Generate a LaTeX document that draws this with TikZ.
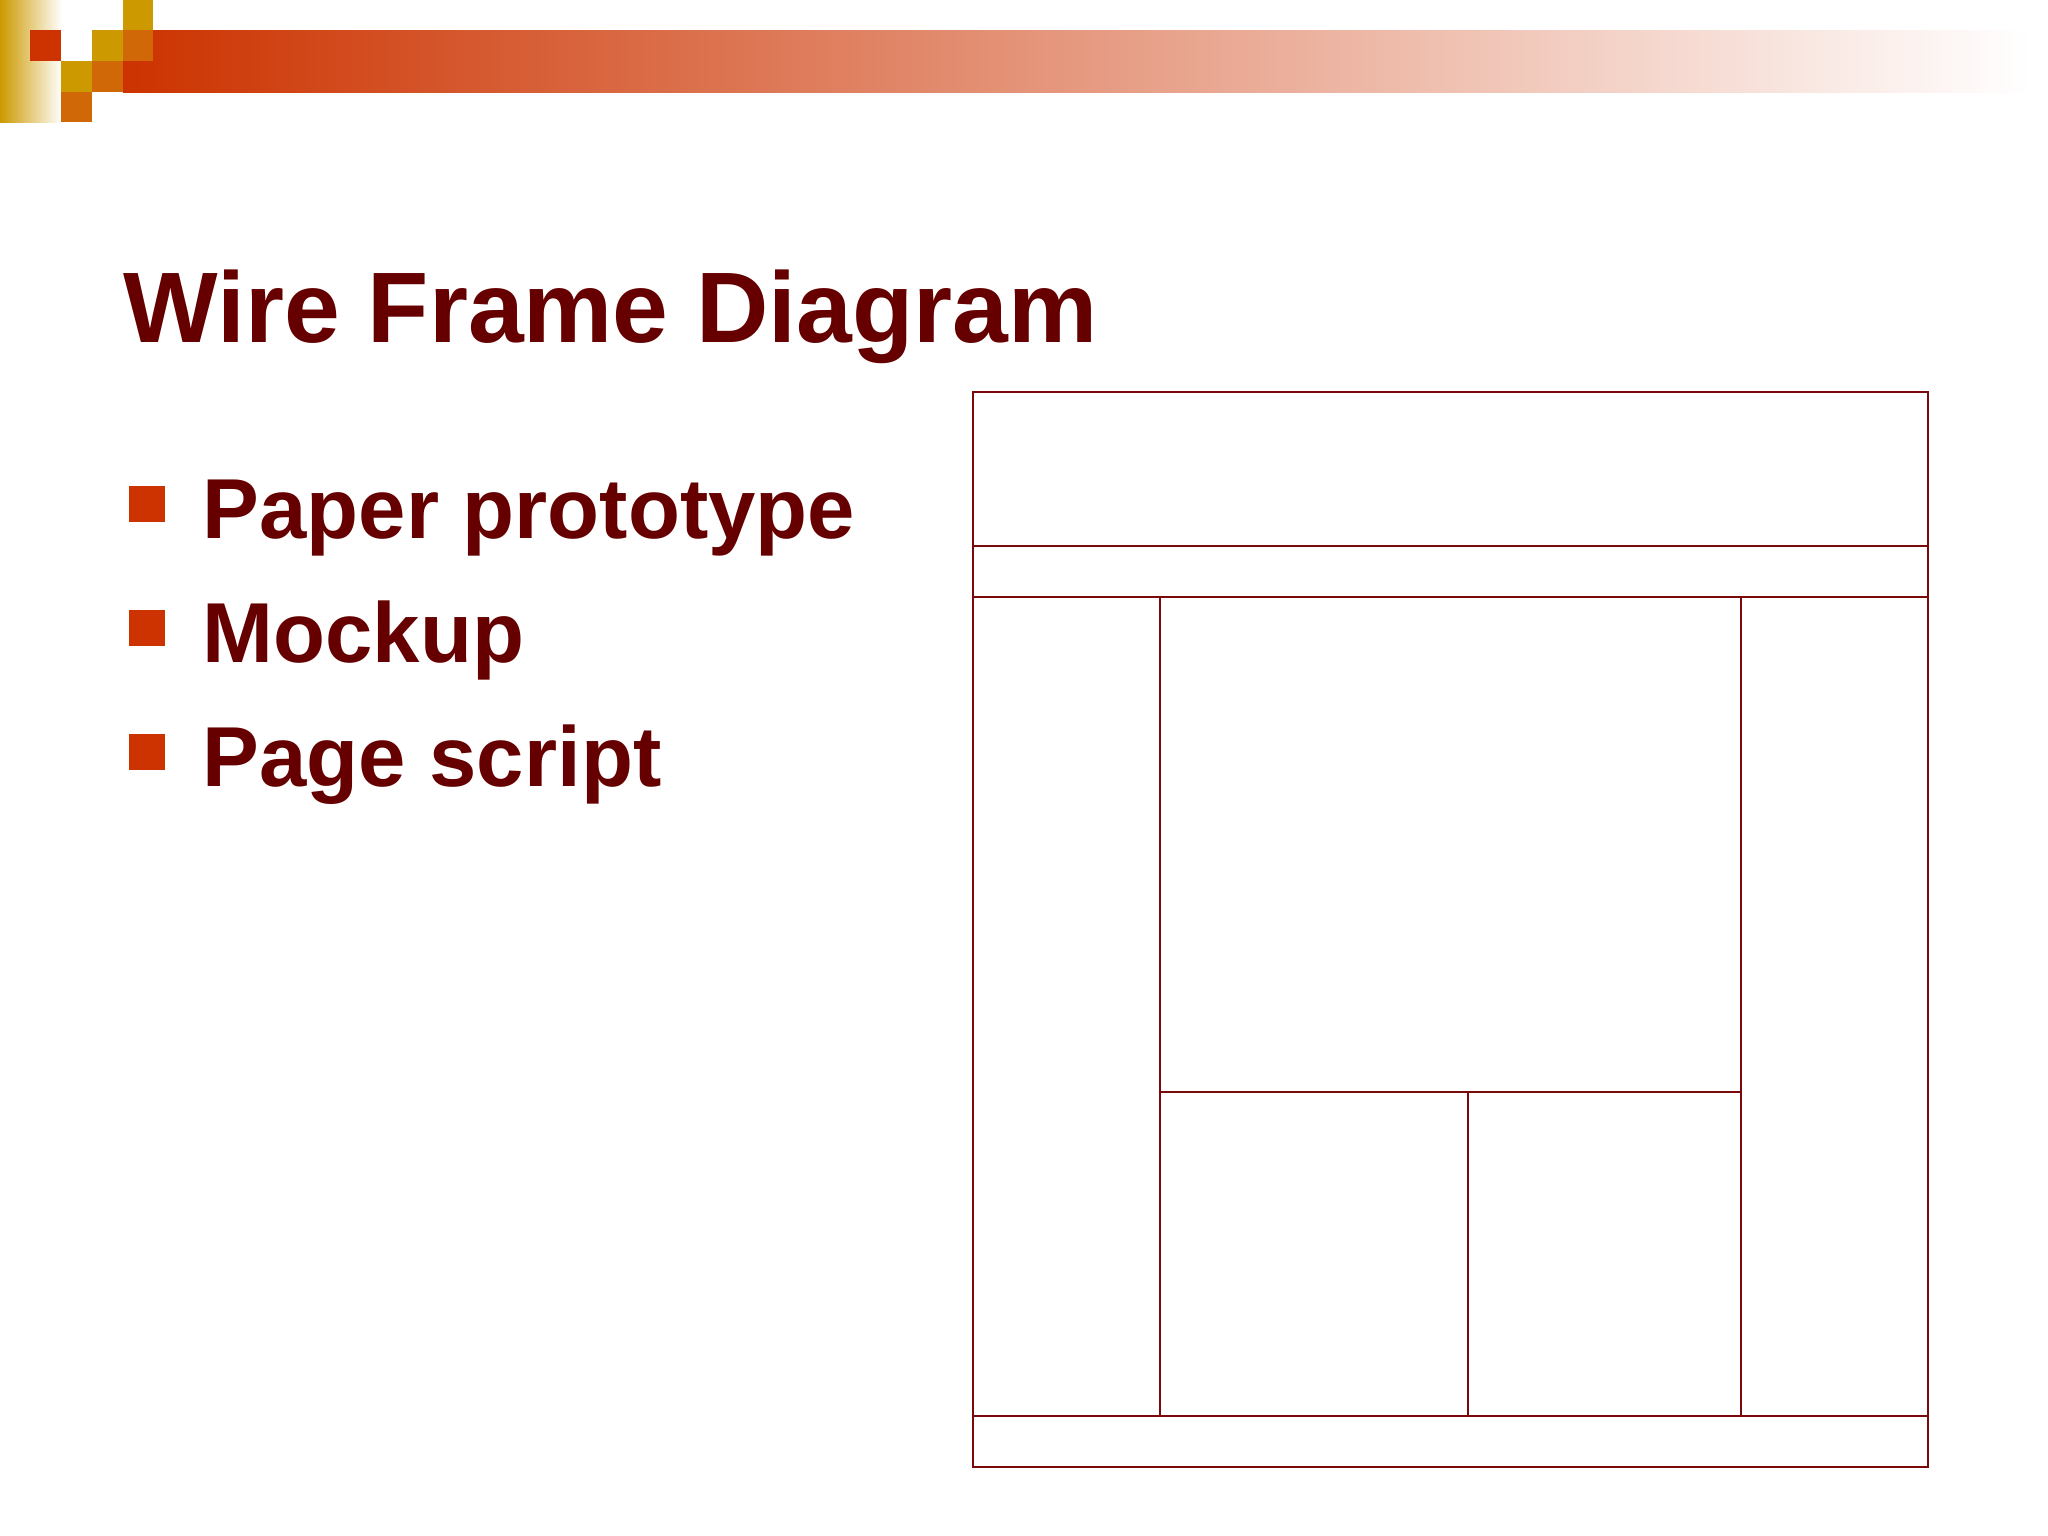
\documentclass[tikz,border=0pt]{standalone}
\usepackage{fontspec}
\setmainfont{Liberation Sans}
\usepackage{xcolor}
\usetikzlibrary{positioning, calc}
\definecolor{maroon}{HTML}{660000}
\definecolor{wireline}{HTML}{7A0A0A}
\definecolor{barred}{HTML}{CC3300}
\definecolor{gold}{HTML}{CC9900}
\definecolor{amber}{HTML}{D06808}
\tikzstyle{Title} = [anchor=base west, inner sep=0pt, text=maroon,
font=\fontsize{28.5}{30}\selectfont\bfseries]
\tikzstyle{Item} = [anchor=base west, inner sep=0pt, text=maroon,
font=\fontsize{24.2}{26}\selectfont\bfseries]
\tikzstyle{Bullet} = [fill=barred, inner sep=0pt, minimum size=0.365cm, anchor=north west]
\tikzstyle{Wire} = [draw=wireline, line width=0.55pt]

\begin{document}
\begin{tikzpicture}[x=0.01cm, y=-0.01cm]
    \useasboundingbox (0,0) rectangle (2048,1536);
    \fill[white] (0,0) rectangle (2048,1536);

    \shade[left color=gold, right color=white] (0,0) rectangle (62,122);
    \shade[left color=barred, right color=white] (123,30) rectangle (2030,92);
    \fill[gold] (123,0) rectangle (153,30);
    \fill[barred] (30,30) rectangle (61,61);
    \fill[gold] (92,30) rectangle (123,61);
    \fill[amber] (123,30) rectangle (153,61);
    \fill[gold] (61,61) rectangle (92,92);
    \fill[amber] (92,61) rectangle (123,92);
    \fill[amber] (61,92) rectangle (92,122);

    \node[Title] (title) at (123,342) {Wire Frame Diagram};

    \node[Bullet] (b1) at (128,485) {};
    \node[Bullet] (b2) at (128,609) {};
    \node[Bullet] (b3) at (128,733) {};
    \node[Item] (paper) at (202,538) {Paper prototype};
    \node[Item] (mockup) at (202,662) {Mockup};
    \node[Item] (script) at (202,786) {Page script};

    \coordinate (nw) at (973,392);
    \coordinate (se) at (1928,1467);
    \draw[Wire] (nw) rectangle (se);
    \draw[Wire] (973,546) -- (1928,546);
    \draw[Wire] (973,597) -- (1928,597);
    \draw[Wire] (973,1416) -- (1928,1416);
    \draw[Wire] (1160,597) -- (1160,1416);
    \draw[Wire] (1741,597) -- (1741,1416);
    \draw[Wire] (1160,1092) -- (1741,1092);
    \draw[Wire] (1468,1092) -- (1468,1416);
\end{tikzpicture}
\end{document}
